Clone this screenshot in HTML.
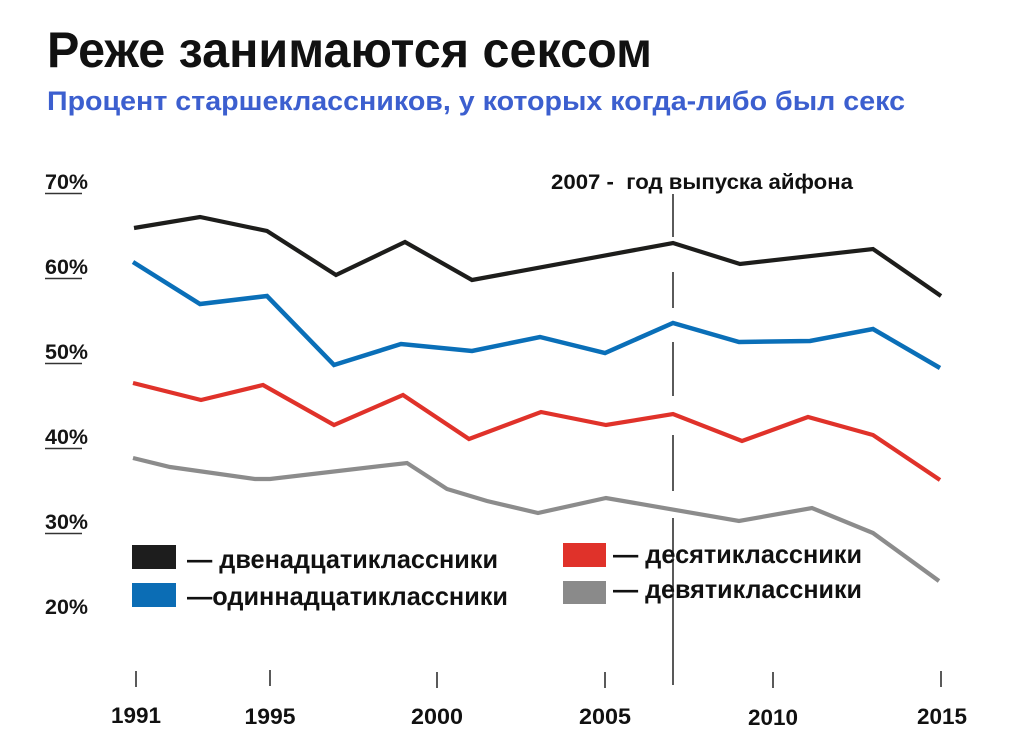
<!DOCTYPE html>
<html>
<head>
<meta charset="utf-8">
<style>
  html, body { margin: 0; padding: 0; background: #ffffff; }
  body { width: 1024px; height: 743px; overflow: hidden; }
  svg { display: block; }
  text { font-family: "Liberation Sans", "DejaVu Sans", sans-serif; font-weight: bold; }
</style>
</head>
<body>
<svg width="1024" height="743" viewBox="0 0 1024 743" xmlns="http://www.w3.org/2000/svg">
  <rect x="0" y="0" width="1024" height="743" fill="#ffffff"/>

  <!-- Title -->
  <text x="47" y="67" font-size="50" fill="#111111" textLength="605" lengthAdjust="spacingAndGlyphs">Реже занимаются сексом</text>
  <text x="47" y="110" font-size="27" fill="#3c5fcf" textLength="858" lengthAdjust="spacingAndGlyphs">Процент старшеклассников, у которых когда-либо был секс</text>

  <!-- Y labels -->
  <g font-size="21" fill="#151515">
    <text x="45" y="189" textLength="43" lengthAdjust="spacingAndGlyphs">70%</text>
    <text x="45" y="274" textLength="43" lengthAdjust="spacingAndGlyphs">60%</text>
    <text x="45" y="359" textLength="43" lengthAdjust="spacingAndGlyphs">50%</text>
    <text x="45" y="444" textLength="43" lengthAdjust="spacingAndGlyphs">40%</text>
    <text x="45" y="529" textLength="43" lengthAdjust="spacingAndGlyphs">30%</text>
    <text x="45" y="614" textLength="43" lengthAdjust="spacingAndGlyphs">20%</text>
  </g>
  <g stroke="#333333" stroke-width="1.6">
    <line x1="45" y1="193.5" x2="82" y2="193.5"/>
    <line x1="45" y1="278.5" x2="82" y2="278.5"/>
    <line x1="45" y1="363.5" x2="82" y2="363.5"/>
    <line x1="45" y1="448.5" x2="82" y2="448.5"/>
    <line x1="45" y1="533.5" x2="82" y2="533.5"/>
  </g>

  <!-- 2007 annotation -->
  <text x="551" y="189" font-size="21" fill="#111111" textLength="302" lengthAdjust="spacingAndGlyphs">2007 -&#160; год выпуска айфона</text>
  <g stroke="#222222" stroke-width="1.5">
    <line x1="673" y1="194" x2="673" y2="237"/>
    <line x1="673" y1="272" x2="673" y2="308"/>
    <line x1="673" y1="342" x2="673" y2="396"/>
    <line x1="673" y1="435" x2="673" y2="491"/>
    <line x1="673" y1="518" x2="673" y2="685"/>
  </g>

  <!-- Series -->
  <g fill="none" stroke-linejoin="miter" stroke-linecap="butt">
    <polyline stroke="#1d1d1b" stroke-width="4.2"
      points="134,228 200,217 267,231 336,275 405,242 472,280 673,243 740,264 873,249 941,296"/>
    <polyline stroke="#0a6fb8" stroke-width="4.5"
      points="133,262 200,304 267,296 334,365 401,344 472,351 540,337 605,353 673,323 739,342 810,341 873,329 940,368"/>
    <polyline stroke="#e0322a" stroke-width="4.2"
      points="133,383 201,400 263,385 334,425 403,395 469,439 541,412 606,425 673,414 742,441 808,417 873,435 940,480"/>
    <polyline stroke="#8c8c8c" stroke-width="4.2"
      points="133,458 170,467 255,479 270,479 407,463 447,489 487,501 538,513 606,498 739,521 812,508 873,533 939,581"/>
  </g>

  <!-- Legend -->
  <rect x="132" y="545" width="44" height="24" fill="#1d1d1d"/>
  <rect x="132" y="583" width="44" height="24" fill="#0b6db5"/>
  <rect x="563" y="543" width="43" height="24" fill="#e0322a"/>
  <rect x="563" y="581" width="43" height="23" fill="#8a8a8a"/>
  <g font-size="26" fill="#111111">
    <text x="187" y="568" textLength="311" lengthAdjust="spacingAndGlyphs">— двенадцатиклассники</text>
    <text x="187" y="605" textLength="321" lengthAdjust="spacingAndGlyphs">—одиннадцатиклассники</text>
    <text x="613" y="563" textLength="249" lengthAdjust="spacingAndGlyphs">— десятиклассники</text>
    <text x="613" y="598" textLength="249" lengthAdjust="spacingAndGlyphs">— девятиклассники</text>
  </g>

  <!-- X ticks -->
  <g stroke="#222222" stroke-width="1.5">
    <line x1="136" y1="671" x2="136" y2="687"/>
    <line x1="270" y1="670" x2="270" y2="686"/>
    <line x1="437" y1="672" x2="437" y2="688"/>
    <line x1="605" y1="672" x2="605" y2="688"/>
    <line x1="773" y1="672" x2="773" y2="688"/>
    <line x1="941" y1="671" x2="941" y2="687"/>
  </g>
  <g font-size="22" fill="#111111" text-anchor="middle">
    <text x="136" y="723" textLength="50" lengthAdjust="spacingAndGlyphs">1991</text>
    <text x="270" y="724" textLength="51" lengthAdjust="spacingAndGlyphs">1995</text>
    <text x="437" y="724" textLength="52" lengthAdjust="spacingAndGlyphs">2000</text>
    <text x="605" y="724" textLength="52" lengthAdjust="spacingAndGlyphs">2005</text>
    <text x="773" y="725" textLength="50" lengthAdjust="spacingAndGlyphs">2010</text>
    <text x="942" y="724" textLength="50" lengthAdjust="spacingAndGlyphs">2015</text>
  </g>
</svg>
</body>
</html>
